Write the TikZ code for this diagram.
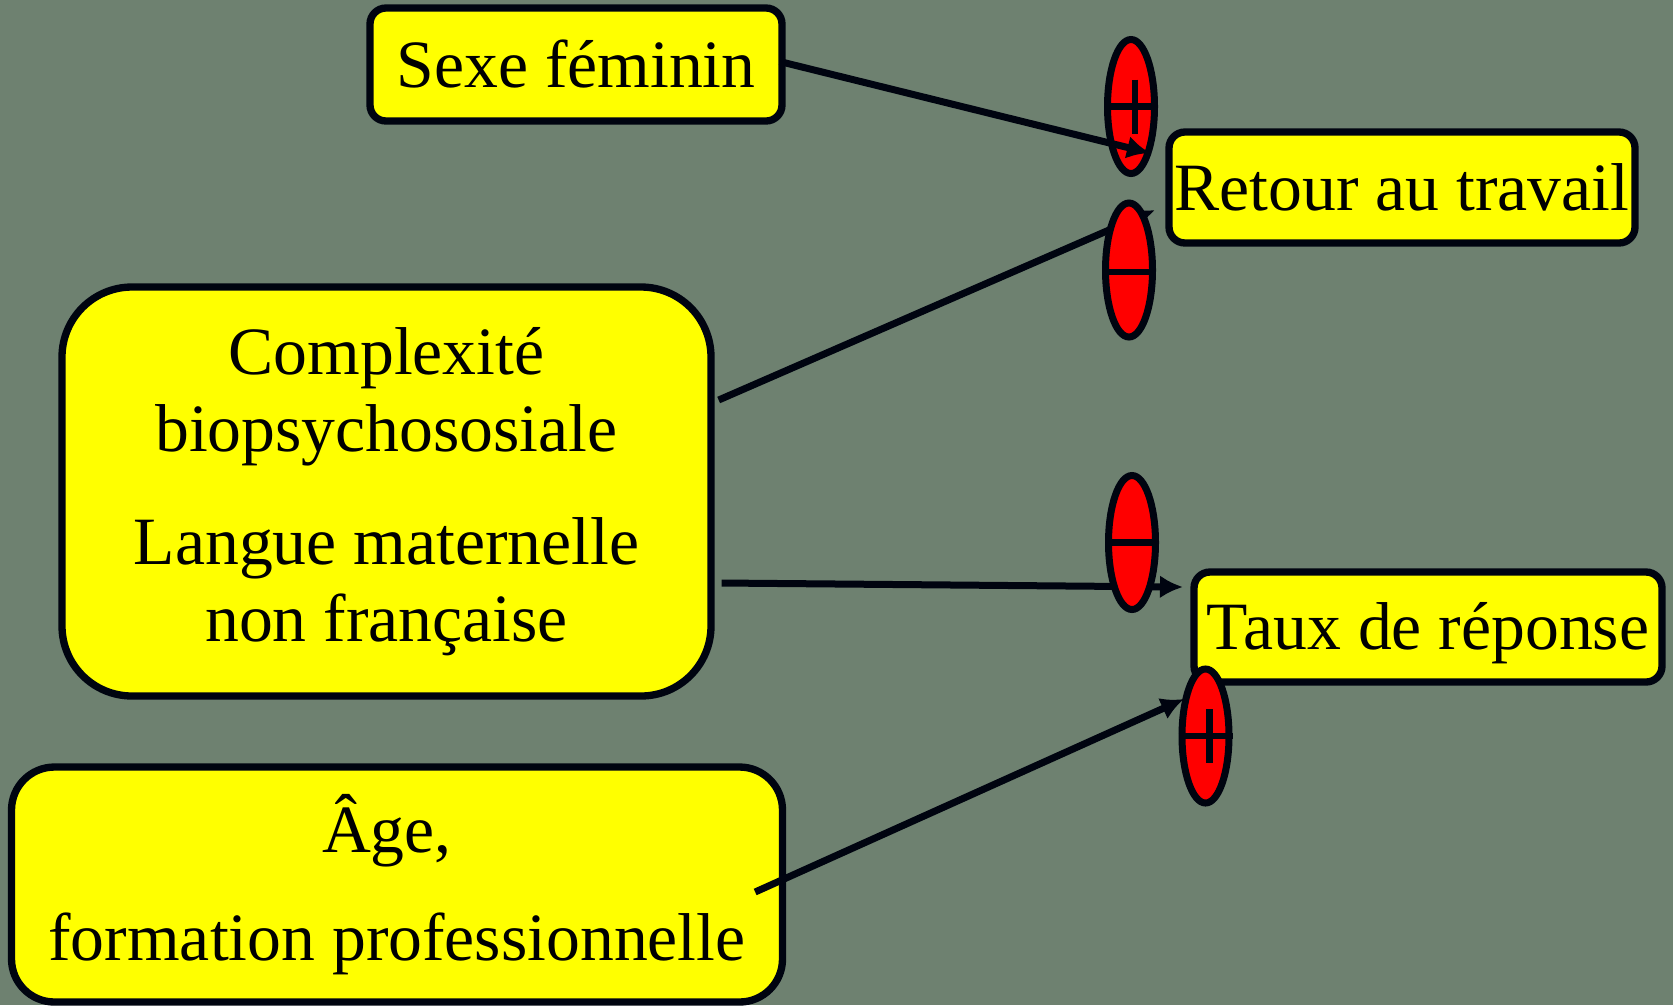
\documentclass[tikz,border=0pt]{standalone}
\usepackage{fontspec}
\setmainfont{Liberation Serif}
\usetikzlibrary{arrows.meta,calc,shapes.geometric}

\definecolor{slate}{RGB}{110,129,112}
\definecolor{ink}{RGB}{0,4,16}
\definecolor{lemon}{RGB}{255,255,0}
\definecolor{signred}{RGB}{255,0,0}

\begin{document}
\begin{tikzpicture}[x=0.3pt, y=-0.3pt,
	box/.style={draw=ink, fill=lemon, line width=2.2pt, inner sep=0pt, align=center, font=\fontsize{20.3}{23.1}\selectfont},
	smallbox/.style={box, rounded corners=4.8pt, text height=13.6pt, text depth=0pt},
	sign/.style={ellipse, draw=ink, fill=signred, line width=2.1pt, inner sep=0pt, minimum width=14.1pt, minimum height=40.2pt},
	bar/.style={draw=ink, line width=2pt},
	link/.style={draw=ink, line width=2.1pt, -{Latex[length=6.9pt,width=6.9pt]}}]
			%%%%% START %%%%%
			
			\fill[slate] (0, 0) rectangle (1673, 1005);
			\useasboundingbox (0, 0) rectangle (1673, 1005);
			
			\node[smallbox, minimum width=123.6pt, minimum height=33.9pt] (sexe) at (576, 64.5) {Sexe féminin};
			\node[smallbox, minimum width=139.8pt, minimum height=33.3pt] (retour) at (1402, 187.5) {Retour au travail};
			\node[smallbox, minimum width=140.4pt, minimum height=33pt] (taux) at (1428, 627) {Taux de réponse};
			
			\node[box, rounded corners=21pt, minimum width=194.7pt, minimum height=122.7pt] (complex) at (386.5, 491.5)
				{Complexité\\biopsychososiale\\[11pt]Langue maternelle\\non française};
			\node[box, rounded corners=12.9pt, minimum width=231.3pt, minimum height=70.5pt] (age) at (397, 884.5)
				{Âge,\hspace*{.3em}\\[9.5pt]formation professionnelle};
			
			\coordinate (t1) at (1150, 153);
			\coordinate (t2) at (1155, 210);
			\coordinate (t3) at (1183, 587);
			\coordinate (t4) at (1184, 699);
			
			\draw[link] ($(complex.east)+(4, -91.5)$) -- (t2);
			\draw[link] ($(complex.east)+(7, 91.5)$) -- (t3);
			\draw[link] ($(age.east)+(-31, 7.5)$) -- (t4);
			
			\node[sign] (p1) at (1131, 106.5) {};
			\node[sign] (m1) at (1129, 270) {};
			\node[sign] (m2) at (1132, 542.5) {};
			\node[sign] (p2) at (1205.5, 736) {};
			
			\draw[bar] (p1.west) -- (p1.east);
			\draw[bar] ($(p1.center)+(4, -27)$) -- ($(p1.center)+(4, 27)$);
			\draw[bar] ($(m1.west)+(0, 2)$) -- ($(m1.east)+(0, 2)$);
			\draw[bar] (m2.west) -- (m2.east);
			\draw[bar] (p2.west) -- (p2.east);
			\draw[bar] ($(p2.center)+(4, -27)$) -- ($(p2.center)+(4, 27)$);
			
			\draw[link] ($(sexe.east)+(-6, -3)$) -- (t1);
			
			%%%%% END %%%%%
\end{tikzpicture}
\end{document}
